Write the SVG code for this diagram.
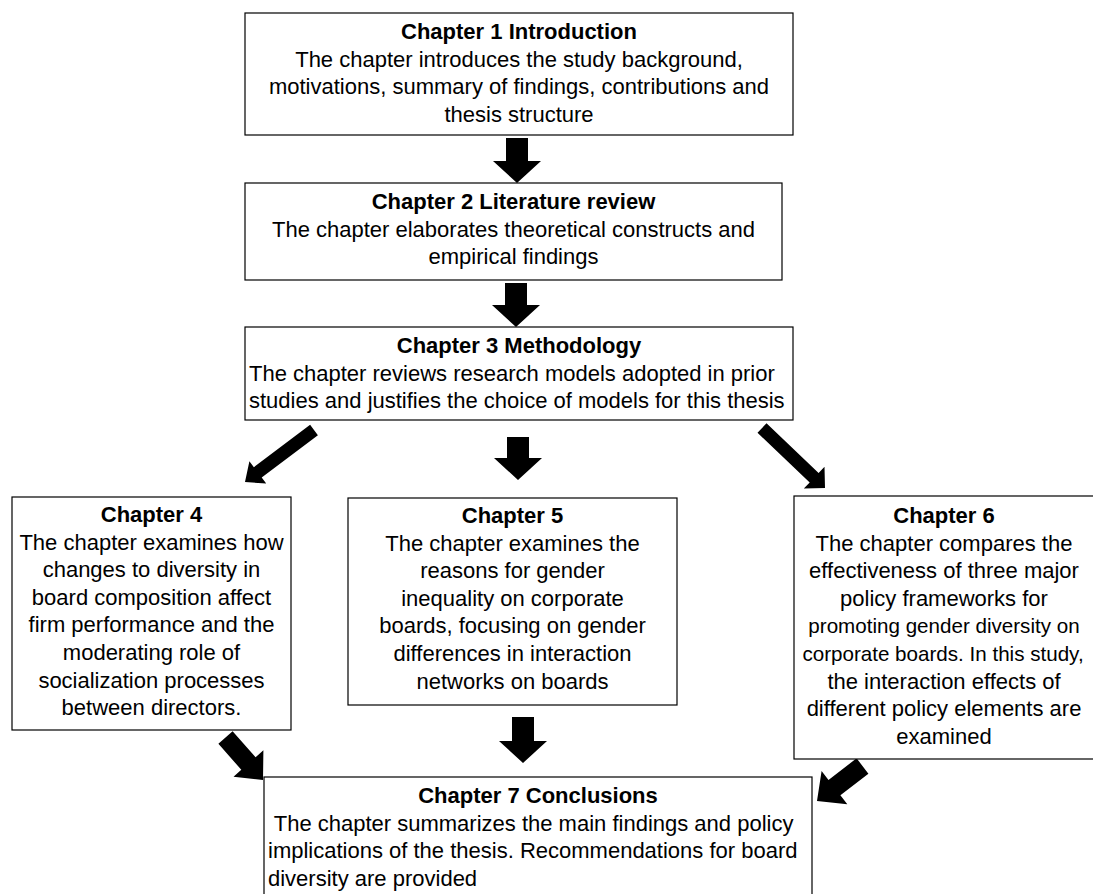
<svg xmlns="http://www.w3.org/2000/svg" width="1093" height="894" viewBox="0 0 1093 894">
<style>
.box{fill:#fff;stroke:#000;stroke-width:1.2}
.t{font-family:"Liberation Sans",Arial,sans-serif;font-size:22px;fill:#000}
.s{font-size:20.6px}
.b{font-weight:bold}
.c{text-anchor:middle}
.arr{fill:#000;stroke:none}
</style>
<rect width="1093" height="894" fill="#fff"/>
<g id="connectors">
<polygon class="arr" points="506,138 528,138 528,161 541,161 517,183 493,161 506,161"/>
<polygon class="arr" points="505,283 527,283 527,305 540,305 516,327 492,305 505,305"/>
<polygon class="arr" points="507,437 529,437 529,458 542,458 518,480 494,458 507,458"/>
<polygon class="arr" points="512,717 534,717 534,741 547,741 523,763 499,741 512,741"/>
<polygon class="arr" points="310.1,424.8 253.9,467.2 249.4,461.2 245,482 266.2,483.6 261.7,477.6 317.9,435.2"/>
<polygon class="arr" points="757.5,432.7 809.7,482.4 803.8,488.5 825,488 824.5,466.8 818.6,472.9 766.5,423.3"/>
<polygon class="arr" points="218.4,743.8 241.3,769.8 233.5,776.7 263,780 263.4,750.3 255.6,757.2 232.6,731.2"/>
<polygon class="arr" points="856.6,758.3 828.5,779.9 821.6,770.9 817,801 847.3,804.2 840.4,795.3 868.4,773.7"/>
</g>
<g id="ch1">
<rect class="box" x="245" y="13" width="548" height="122"/>
<text class="t b c" x="519" y="39">Chapter 1 Introduction</text>
<text class="t c" x="519" y="66.6">The chapter introduces the study background,</text>
<text class="t c" x="519" y="94.2">motivations, summary of findings, contributions and</text>
<text class="t c" x="519" y="121.8">thesis structure</text>
</g>
<g id="ch2">
<rect class="box" x="245" y="183" width="537" height="97"/>
<text class="t b c" x="513.5" y="209">Chapter 2 Literature review</text>
<text class="t c" x="513.5" y="236.6">The chapter elaborates theoretical constructs and</text>
<text class="t c" x="513.5" y="264.2">empirical findings</text>
</g>
<g id="ch3">
<rect class="box" x="245" y="327" width="548" height="93"/>
<text class="t b c" x="519" y="353">Chapter 3 Methodology</text>
<text class="t" x="249" y="380.6">The chapter reviews research models adopted in prior</text>
<text class="t" x="249" y="408.2">studies and justifies the choice of models for this thesis</text>
</g>
<g id="ch4">
<rect class="box" x="12" y="497" width="279" height="233"/>
<text class="t b c" x="151.5" y="522">Chapter 4</text>
<text class="t c" x="151.5" y="549.6">The chapter examines how</text>
<text class="t c" x="151.5" y="577.2">changes to diversity in</text>
<text class="t c" x="151.5" y="604.8">board composition affect</text>
<text class="t c" x="151.5" y="632.4">firm performance and the</text>
<text class="t c" x="151.5" y="660">moderating role of</text>
<text class="t c" x="151.5" y="687.6">socialization processes</text>
<text class="t c" x="151.5" y="715.2">between directors.</text>
</g>
<g id="ch5">
<rect class="box" x="348" y="498" width="329" height="207"/>
<text class="t b c" x="512.5" y="523">Chapter 5</text>
<text class="t c" x="512.5" y="550.6">The chapter examines the</text>
<text class="t c" x="512.5" y="578.2">reasons for gender</text>
<text class="t c" x="512.5" y="605.8">inequality on corporate</text>
<text class="t c" x="512.5" y="633.4">boards, focusing on gender</text>
<text class="t c" x="512.5" y="661">differences in interaction</text>
<text class="t c" x="512.5" y="688.6">networks on boards</text>
</g>
<g id="ch6">
<rect class="box" x="794" y="496" width="310" height="263"/>
<text class="t b c" x="944" y="523">Chapter 6</text>
<text class="t c" x="944" y="550.6">The chapter compares the</text>
<text class="t c" x="944" y="578.2">effectiveness of three major</text>
<text class="t c" x="944" y="605.8">policy frameworks for</text>
<text class="t s c" x="944" y="633.4">promoting gender diversity on</text>
<text class="t s c" x="943" y="661">corporate boards. In this study,</text>
<text class="t c" x="944" y="688.6">the interaction effects of</text>
<text class="t c" x="944" y="716.2">different policy elements are</text>
<text class="t c" x="944" y="743.8">examined</text>
</g>
<g id="ch7">
<rect class="box" x="264" y="777" width="548" height="130"/>
<text class="t b c" x="538" y="803">Chapter 7 Conclusions</text>
<text class="t" x="268" y="830.6" xml:space="preserve"> The chapter summarizes the main findings and policy</text>
<text class="t" x="268" y="858.2">implications of the thesis. Recommendations for board</text>
<text class="t" x="268" y="885.8">diversity are provided</text>
</g>
</svg>
